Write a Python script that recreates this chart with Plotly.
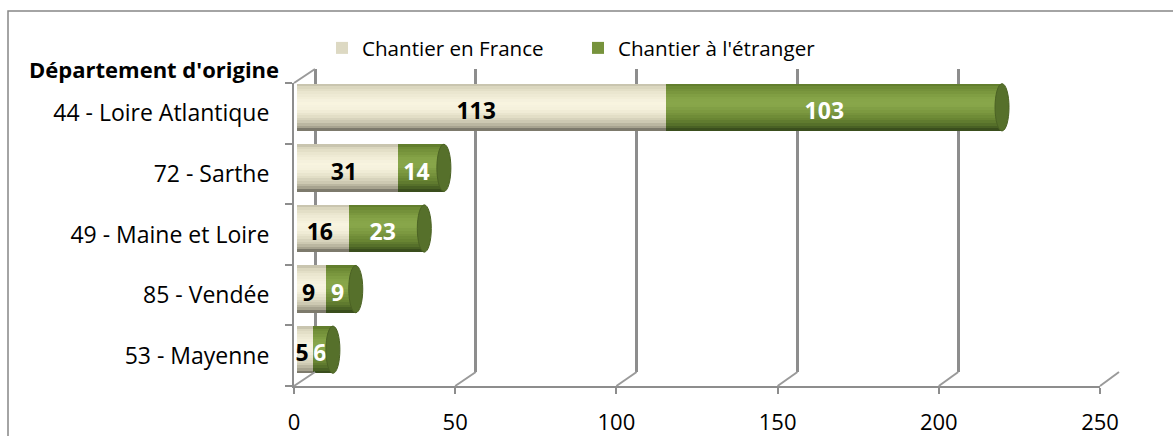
import plotly.graph_objects as go

# ---------------- data ----------------
departements = ["44 - Loire Atlantique", "72 - Sarthe", "49 - Maine et Loire", "85 - Vendée", "53 - Mayenne"]
france = [113, 31, 16, 9, 5]
etranger = [103, 14, 23, 9, 6]
series_names = ["Chantier en France", "Chantier à l'étranger"]
x_ticks = [0, 50, 100, 150, 200, 250]
axis_title = "Département d'origine"

# ---------------- geometry / style ----------------
W, H = 1173, 436
def px(p):
    return p / W
def py(p):
    return 1 - p / H

FONT = "Open Sans"
XMAX = 250
front_x = (294, 1100)
front_y = (386, 83)          # bottom, top (pixels)
bar_x = (297, 1113)           # bars sit at mid-depth
bar_dy = 6
back_x = (315, 1119)          # back wall
back_dy = 14
BAR_W = 0.78

cats_bottom_up = departements[::-1]

def hexrgb(h):
    h = h.lstrip('#')
    return tuple(int(h[i:i + 2], 16) for i in (0, 2, 4))

def interp(stops, t):
    for (t0, c0), (t1, c1) in zip(stops, stops[1:]):
        if t0 <= t <= t1:
            f = 0 if t1 == t0 else (t - t0) / (t1 - t0)
            a, b = hexrgb(c0), hexrgb(c1)
            return 'rgb(%d,%d,%d)' % tuple(round(a[i] + (b[i] - a[i]) * f) for i in range(3))
    return stops[-1][1]

beige_stops = [(0.0, '#bcb8a3'), (0.06, '#d8d4bc'), (0.2, '#ebe7d0'), (0.4, '#f8f4e0'),
               (0.55, '#f4f0db'), (0.7, '#e1ddc5'), (0.82, '#cac6af'), (0.92, '#a6a28e'), (1.0, '#67655a')]
green_stops = [(0.0, '#5b7729'), (0.08, '#6e8b35'), (0.3, '#85a347'), (0.45, '#89a74b'),
               (0.6, '#7a973f'), (0.75, '#698533'), (0.88, '#536d29'), (1.0, '#33451a')]
legend_colors = ['#DDD9C3', '#77933C']
cap_color = '#56702b'

fig = go.Figure()

# subplot 1 (xy): back-wall gridlines
fig.add_trace(go.Scatter(x=[0], y=[0], mode='markers', marker=dict(opacity=0),
                         hoverinfo='skip', showlegend=False, xaxis='x', yaxis='y'))

# subplot 2 (x2y2): cylinders
N = 18
def add_series(vals, base, stops, name, lcolor):
    fig.add_trace(go.Bar(y=departements, x=vals, base=base, orientation='h', name=name,
                         marker=dict(color=lcolor, line=dict(width=0)), width=BAR_W,
                         xaxis='x2', yaxis='y2', hoverinfo='skip', showlegend=True))
    for k in range(N):
        a, b = k / N, (k + 1) / N
        col = interp(stops, (a + b) / 2)
        fig.add_trace(go.Bar(y=departements, x=vals, base=base, orientation='h',
                             marker=dict(color=col, line=dict(width=0)),
                             width=(b - a) * BAR_W * 1.02, offset=BAR_W / 2 - b * BAR_W,
                             xaxis='x2', yaxis='y2', hoverinfo='skip', showlegend=False))

add_series(france, [0] * len(france), beige_stops, series_names[0], legend_colors[0])
add_series(etranger, france, green_stops, series_names[1], legend_colors[1])

# subplot 3 (x3y3): front axes + data labels
fig.add_trace(go.Scatter(x=[v / 2 for v in france], y=departements, mode='text',
                         text=[str(v) for v in france],
                         textfont=dict(family=FONT, size=23, color='black', weight='bold'),
                         xaxis='x3', yaxis='y3', hoverinfo='skip', showlegend=False))
fig.add_trace(go.Scatter(x=[f + e / 2 for f, e in zip(france, etranger)], y=departements, mode='text',
                         text=[str(v) for v in etranger],
                         textfont=dict(family=FONT, size=23, color='white', weight='bold'),
                         xaxis='x3', yaxis='y3', hoverinfo='skip', showlegend=False))

shapes = []
# end caps of cylinders
cap_half = 7 / ((bar_x[1] - bar_x[0]) / XMAX)
for d, f, e in zip(departements, france, etranger):
    i = cats_bottom_up.index(d)
    tot = f + e
    shapes.append(dict(type='circle', xref='x2', yref='y2', x0=tot - cap_half, x1=tot + cap_half,
                       y0=i - BAR_W / 2, y1=i + BAR_W / 2, fillcolor=cap_color,
                       line=dict(color='#4b6224', width=1), layer='above'))

# depth connectors at the floor (front tick -> back gridline)
def sx(v, rng):
    return px(rng[0] + v / XMAX * (rng[1] - rng[0]))
for t in x_ticks:
    shapes.append(dict(type='line', xref='paper', yref='paper', x0=sx(t, front_x), y0=py(front_y[0]),
                       x1=sx(t, back_x), y1=py(front_y[0] - back_dy),
                       line=dict(color='#9a9a9a', width=2)))
# top-left connector
shapes.append(dict(type='line', xref='paper', yref='paper', x0=sx(0, front_x), y0=py(front_y[1]),
                   x1=sx(0, back_x), y1=py(front_y[1] - back_dy), line=dict(color='#9a9a9a', width=2)))
# chart border
shapes.append(dict(type='rect', xref='paper', yref='paper', x0=px(8), y0=-0.5, x1=1.5, y1=py(11),
                   line=dict(color='#878787', width=1.5), fillcolor='rgba(0,0,0,0)', layer='below'))

gridc = '#8d8d8d'
fig.update_layout(
    template='none',
    width=W, height=H, margin=dict(l=0, r=0, t=0, b=0, pad=0, autoexpand=False),
    paper_bgcolor='white', plot_bgcolor='rgba(0,0,0,0)',
    barmode='overlay', bargap=0,
    font=dict(family=FONT, size=22, color='black'),
    shapes=shapes,
    showlegend=True,
    legend=dict(orientation='h', x=px(322), y=py(28), xanchor='left', yanchor='top',
                font=dict(family=FONT, size=20.6), entrywidth=211, entrywidthmode='pixels',
                itemwidth=30, bgcolor='rgba(0,0,0,0)', borderwidth=0, traceorder='normal'),
    xaxis=dict(domain=[px(back_x[0]), px(back_x[1])], range=[0, XMAX], automargin=False,
               tickvals=x_ticks, showticklabels=False, ticks='', showgrid=True, gridcolor=gridc,
               gridwidth=2.5, zeroline=True, zerolinecolor=gridc, zerolinewidth=2.5,
               showline=False, anchor='y', fixedrange=True),
    yaxis=dict(domain=[py(front_y[0] - back_dy), py(front_y[1] - back_dy)], range=[-0.5, 4.5],
               automargin=False, visible=False, showgrid=False, zeroline=False, anchor='x', fixedrange=True),
    xaxis2=dict(domain=[px(bar_x[0]), px(bar_x[1])], range=[0, XMAX], automargin=False,
                visible=False, showgrid=False, zeroline=False, anchor='y2', fixedrange=True),
    yaxis2=dict(domain=[py(front_y[0] - bar_dy), py(front_y[1] - bar_dy)], range=[-0.5, 4.5],
                type='category', categoryorder='array', categoryarray=cats_bottom_up, automargin=False,
                visible=False, showgrid=False, anchor='x2', fixedrange=True),
    xaxis3=dict(domain=[px(front_x[0]), px(front_x[1])], range=[0, XMAX], tickvals=x_ticks,
                ticks='outside', ticklen=6, tickwidth=2, tickcolor=gridc, showgrid=False,
                zeroline=False, showline=True, linecolor=gridc, linewidth=2, automargin=False,
                ticklabelstandoff=10, tickfont=dict(family=FONT, size=22), anchor='y3', fixedrange=True),
    yaxis3=dict(domain=[py(front_y[0]), py(front_y[1])], range=[-0.5, 4.5],
                type='category', categoryorder='array', categoryarray=cats_bottom_up,
                ticks='outside', tickson='boundaries', ticklen=7, tickwidth=2, tickcolor=gridc,
                showline=True, linecolor=gridc, linewidth=2, showgrid=False, automargin=False,
                ticklabelstandoff=18, tickfont=dict(family=FONT, size=23), anchor='x3', fixedrange=True),
    annotations=[dict(text="<b>%s</b>" % axis_title, xref='paper', yref='paper', x=px(27), y=py(69),
                      xanchor='left', yanchor='middle', showarrow=False,
                      font=dict(family=FONT, size=22, color='black'))],
)

fig.write_html("out.html", config={'displayModeBar': False},
               post_script="document.body.style.margin='0';document.body.style.overflow='hidden';")
